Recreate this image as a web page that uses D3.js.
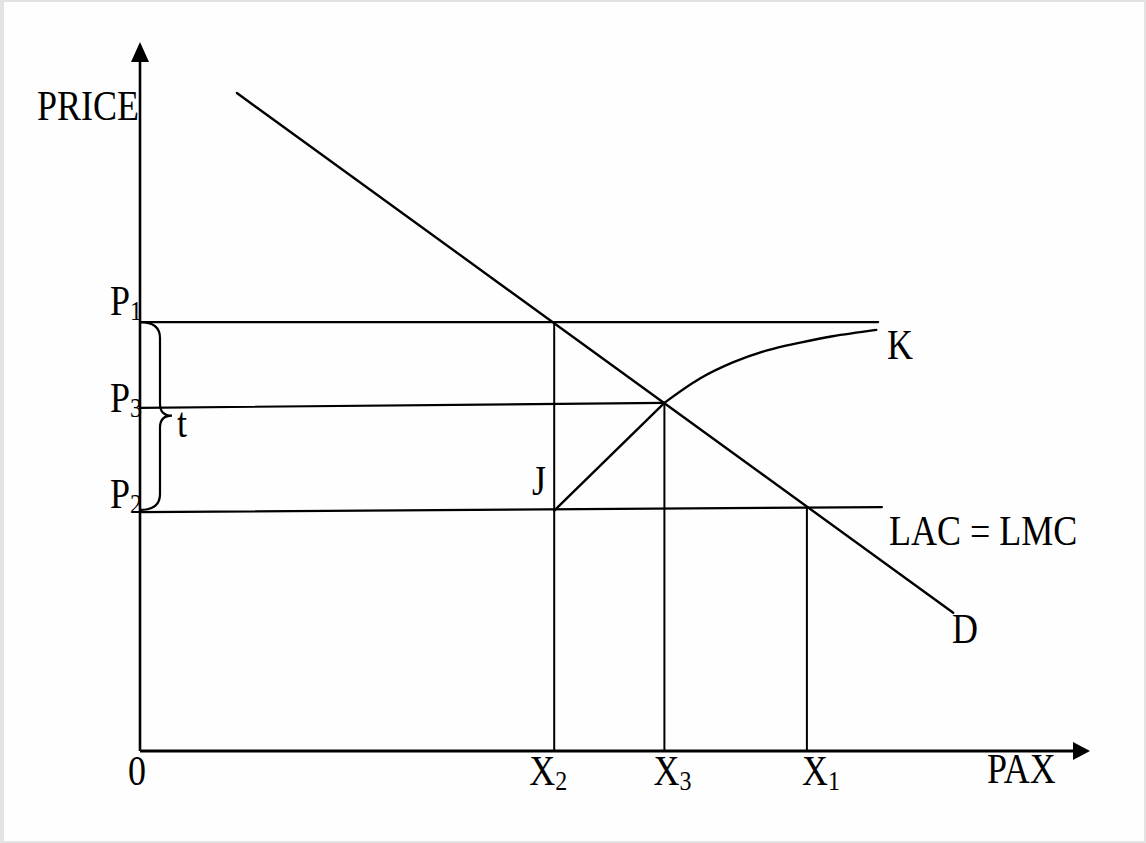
<!DOCTYPE html>
<html>
<head>
<meta charset="utf-8">
<script src="https://cdn.jsdelivr.net/npm/d3@7"></script>
<style>
  body { margin: 0; background: #e3e3e3; }
  svg { display: block; }
  text { font-family: "Liberation Serif", "Times New Roman", serif; fill: #000; }
</style>
</head>
<body>
<svg id="chart"></svg>
<script>
// quantity (PAX) levels, price levels, in chart units (0..10)
const qLevels = { X2: 4.36, X3: 5.52, X1: 7.02 };
const pLevels = { P1: 6.05, P3: 4.87, P2: 3.40 };

// demand curve D
const demand = [[1.02, 9.28], [8.56, 1.95]];
// horizontal price lines (drawn freehand so slight slant)
const priceLines = [
  [[0, 6.05], [7.77, 6.05]],
  [[0, 4.84], [5.52, 4.91]],
  [[0, 3.37], [7.81, 3.44]]
];
// vertical drops from the intersections
const dropLines = [
  [[4.36, 0], [4.36, 6.05]],
  [[5.52, 0], [5.52, 4.91]],
  [[7.02, 0], [7.02, 3.44]]
];
// supply path J -> K
const jkStraight = [[4.36, 3.39], [5.52, 4.91]];
const jkCurve = [[5.52, 4.91], [5.89, 5.25], [6.24, 5.48], [6.60, 5.65], [6.95, 5.76], [7.29, 5.85], [7.75, 5.94]];

const W = 1146, H = 843;
const svg = d3.select('#chart').attr('width', W).attr('height', H);

svg.append('rect')
  .attr('x', 4).attr('y', 2)
  .attr('width', W - 6).attr('height', H - 4)
  .style('fill', '#fefefe');

const x = d3.scaleLinear().domain([0, 10]).range([140, 1090]);
const y = d3.scaleLinear().domain([0, 10]).range([751, 42]);

const drawPath = (pts, w, curve) => {
  const line = d3.line().x(d => x(d[0])).y(d => y(d[1]));
  if (curve) line.curve(curve);
  svg.append('path')
    .datum(pts)
    .attr('fill', 'none')
    .attr('stroke', '#000')
    .attr('stroke-width', w)
    .attr('stroke-linecap', 'round')
    .attr('d', line);
};

// axes
svg.append('line')
  .attr('x1', x(0)).attr('y1', y(0))
  .attr('x2', x(0)).attr('y2', 62)
  .attr('stroke', '#000').attr('stroke-width', 2.6);
svg.append('path')
  .attr('d', `M${x(0)},${y(10)} L${x(0) - 9},${y(10) + 20} L${x(0) + 9},${y(10) + 20} Z`)
  .style('fill', '#000');
svg.append('line')
  .attr('x1', x(0)).attr('y1', y(0))
  .attr('x2', x(10) - 16).attr('y2', y(0))
  .attr('stroke', '#000').attr('stroke-width', 3);
svg.append('path')
  .attr('d', `M${x(10)},${y(0)} L${x(10) - 17},${y(0) - 9} L${x(10) - 17},${y(0) + 9} Z`)
  .style('fill', '#000');

priceLines.forEach(p => drawPath(p, 2.2));
dropLines.forEach(p => drawPath(p, 2));
drawPath(demand, 2.4);
drawPath(jkStraight, 2.4);
drawPath(jkCurve, 2.4, d3.curveCatmullRom);

// brace for tax t
const bx = x(0), b1 = y(pLevels.P1), b2 = y(pLevels.P2), bm = y(pLevels.P3) + 10;
svg.append('path')
  .attr('fill', 'none')
  .attr('stroke', '#000')
  .attr('stroke-width', 2.2)
  .attr('d', `M${bx},${b1} Q${bx + 20},${b1} ${bx + 20},${b1 + 16}
    L${bx + 20},${bm - 12} Q${bx + 20},${bm} ${bx + 32},${bm}
    Q${bx + 20},${bm} ${bx + 20},${bm + 12}
    L${bx + 20},${b2 - 16} Q${bx + 20},${b2} ${bx},${b2}`);

// labels (serif text, vertically stretched like the source)
const label = (tx, ty, main, sub, anchor) => {
  const t = svg.append('text')
    .attr('transform', `translate(${tx},${ty}) scale(1,1.18)`)
    .style('font-size', '36px')
    .style('text-anchor', anchor || 'start');
  t.append('tspan').text(main);
  if (sub) {
    t.append('tspan').attr('dy', 4).style('font-size', '24px').text(sub);
  }
};

label(37, 120, 'PRICE');
label(110, 315, 'P', '1');
label(110, 412, 'P', '3');
label(110, 508, 'P', '2');
label(177, 437, 't');
label(532, 495, 'J');
label(887, 359, 'K');
label(889, 545, 'LAC = LMC');
label(952, 643, 'D');
label(137, 785, '0', null, 'middle');
label(x(qLevels.X2) - 25, 785, 'X', '2');
label(x(qLevels.X3) - 11, 785, 'X', '3');
label(x(qLevels.X1) - 5, 785, 'X', '1');
label(987, 783, 'PAX');
</script>
</body>
</html>
